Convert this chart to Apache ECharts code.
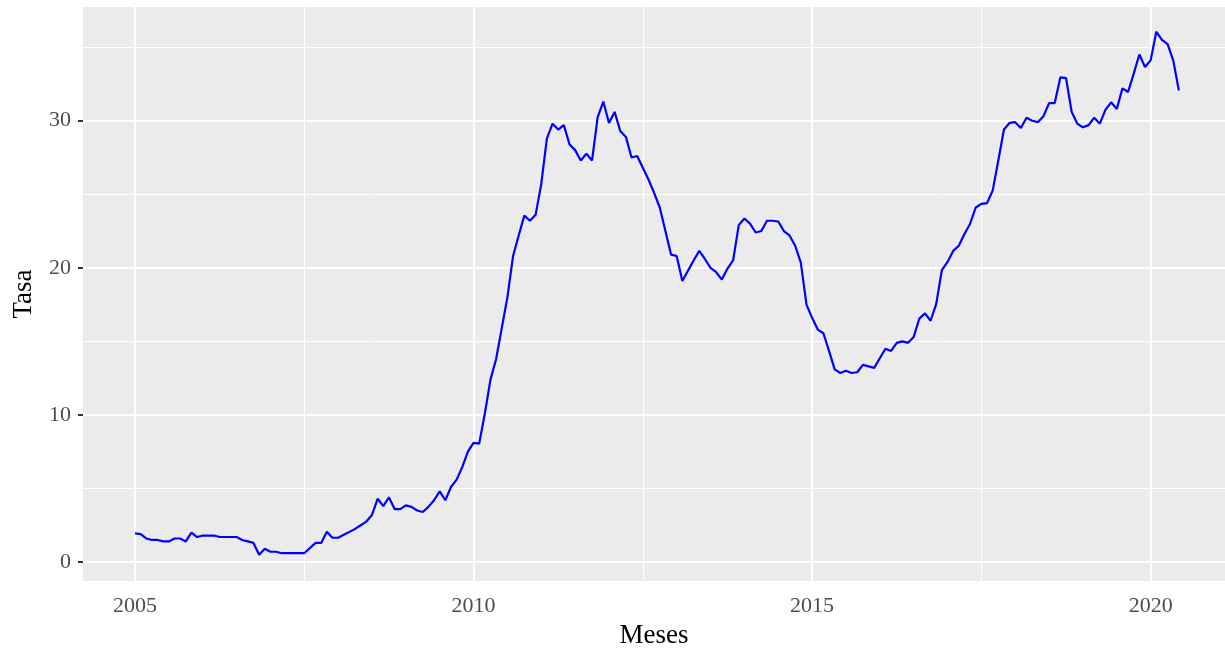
<!DOCTYPE html>
<html>
<head>
<meta charset="utf-8">
<script src="https://cdn.jsdelivr.net/npm/echarts@6/dist/echarts.min.js"></script>
<style>
html,body{margin:0;padding:0;background:#fff;}
#chart{width:1225px;height:650px;}
</style>
</head>
<body>
<div id="chart"></div>
<script>
// Monthly series starting January 2005
const startYear = 2005;
const tasa = [
  1.95, 1.9, 1.6, 1.5, 1.5, 1.4, 1.4, 1.6, 1.6, 1.4, 2.0, 1.7,
  1.8, 1.8, 1.8, 1.7, 1.7, 1.7, 1.7, 1.5, 1.4, 1.3, 0.5, 0.9,
  0.7, 0.7, 0.6, 0.6, 0.6, 0.6, 0.6, 0.95, 1.3, 1.3, 2.05, 1.65,
  1.65, 1.85, 2.05, 2.25, 2.5, 2.75, 3.2, 4.3, 3.8, 4.4, 3.6, 3.6,
  3.85, 3.75, 3.5, 3.4, 3.75, 4.2, 4.8, 4.2, 5.1, 5.6, 6.45, 7.5,
  8.1, 8.05, 10.1, 12.4, 13.8, 15.9, 18.0, 20.8, 22.2, 23.55, 23.2, 23.6,
  25.7, 28.8, 29.8, 29.4, 29.7, 28.4, 28.0, 27.3, 27.75, 27.3, 30.25, 31.3,
  29.85, 30.6, 29.3, 28.9, 27.5, 27.6, 26.8, 26.0, 25.1, 24.1, 22.5, 20.9,
  20.8, 19.1, 19.8, 20.5, 21.15, 20.6, 20.0, 19.7, 19.2, 19.95, 20.5, 22.9,
  23.35, 23.0, 22.4, 22.5, 23.2, 23.2, 23.15, 22.5, 22.2, 21.5, 20.35, 17.5,
  16.6, 15.8, 15.55, 14.35, 13.1, 12.85, 13.0, 12.85, 12.9, 13.4, 13.3, 13.2,
  13.85, 14.5, 14.35, 14.9, 15.0, 14.9, 15.3, 16.55, 16.9, 16.4, 17.55, 19.85,
  20.4, 21.15, 21.5, 22.3, 23.0, 24.1, 24.35, 24.4, 25.25, 27.3, 29.4, 29.85,
  29.9, 29.5, 30.2, 30.0, 29.9, 30.3, 31.2, 31.2, 32.95, 32.9, 30.6, 29.8,
  29.55, 29.7, 30.2, 29.8, 30.75, 31.25, 30.8, 32.2, 31.95, 33.2, 34.5, 33.65,
  34.1, 36.05, 35.5, 35.2, 34.1, 32.05
];
const xMajor = [2005, 2010, 2015, 2020];
const xMinor = [2007.5, 2012.5, 2017.5];
const yMajor = [0, 10, 20, 30];
const yMinor = [5, 15, 25, 35];

const seriesData = tasa.map((v, i) => [startYear + i / 12, v]);

const FONT = '"Liberation Serif", "DejaVu Serif", serif';
const chart = echarts.init(document.getElementById('chart'), null, {renderer: 'canvas'});

function gridLines(vals, axisKey, width) {
  return vals.map(v => ({ [axisKey]: v, lineStyle: { color: '#FFFFFF', width: width, type: 'solid' } }));
}

chart.setOption({
  animation: false,
  backgroundColor: '#FFFFFF',
  grid: {
    left: 83, right: 0, top: 7, bottom: 69,
    outerBoundsMode: 'none',
    containLabel: false,
    show: true, backgroundColor: '#EBEBEB', borderWidth: 0
  },
  xAxis: {
    type: 'value',
    min: 2004.232, max: 2021.098,
    name: 'Meses',
    nameLocation: 'middle',
    nameGap: 41,
    nameTextStyle: { fontFamily: FONT, fontSize: 27, color: '#000000' },
    axisLine: { show: false },
    splitLine: { show: false },
    axisTick: { show: true, customValues: xMajor, length: 5, lineStyle: { color: '#333333', width: 2 } },
    axisLabel: {
      customValues: xMajor, margin: 14,
      fontFamily: FONT, fontSize: 22, color: '#4D4D4D',
      formatter: v => String(Math.round(v))
    }
  },
  yAxis: {
    type: 'value',
    min: -1.29, max: 37.73,
    name: 'Tasa',
    nameLocation: 'middle',
    nameRotate: 90,
    nameGap: 46,
    nameTextStyle: { fontFamily: FONT, fontSize: 27, color: '#000000' },
    axisLine: { show: false },
    splitLine: { show: false },
    axisTick: { show: true, customValues: yMajor, length: 5, lineStyle: { color: '#333333', width: 2 } },
    axisLabel: {
      customValues: yMajor, margin: 12,
      fontFamily: FONT, fontSize: 22, color: '#4D4D4D',
      formatter: v => String(Math.round(v))
    }
  },
  series: [
    {
      type: 'line',
      data: [],
      silent: true,
      z: 1,
      markLine: {
        silent: true,
        symbol: ['none', 'none'],
        label: { show: false },
        animation: false,
        data: [].concat(
          gridLines(xMinor, 'xAxis', 1),
          gridLines(yMinor, 'yAxis', 1),
          gridLines(xMajor, 'xAxis', 2),
          gridLines(yMajor, 'yAxis', 2)
        )
      }
    },
    {
      type: 'line',
      data: seriesData,
      showSymbol: false,
      symbol: 'none',
      z: 5,
      lineStyle: { color: '#0000FF', width: 2.2 },
      itemStyle: { color: '#0000FF' }
    }
  ]
});
</script>
</body>
</html>
